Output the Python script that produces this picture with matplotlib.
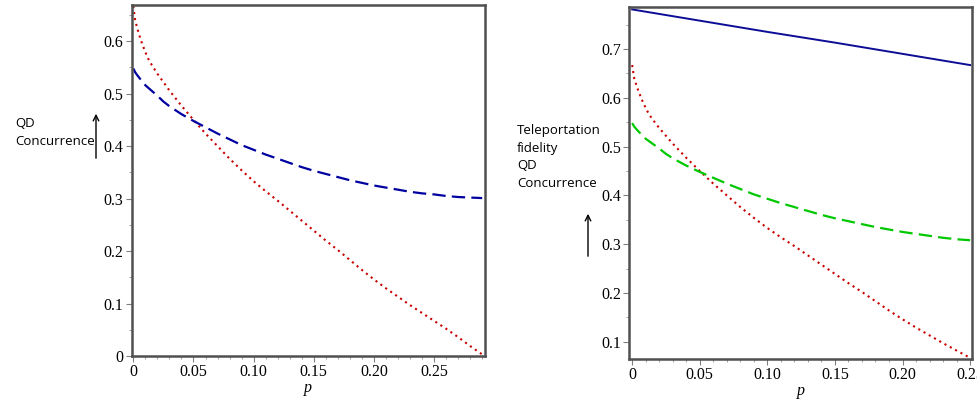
import numpy as np
import matplotlib
matplotlib.use("Agg")
import matplotlib.pyplot as plt
from matplotlib.ticker import MultipleLocator

# mixing parameter p
p = [0, 0.0015, 0.003, 0.005, 0.0075, 0.01, 0.0125, 0.015, 0.0175, 0.02,
     0.025, 0.03, 0.04, 0.05, 0.06, 0.07, 0.08, 0.09, 0.10, 0.11, 0.12, 0.13,
     0.14, 0.15, 0.16, 0.17, 0.18, 0.19, 0.20, 0.21, 0.22, 0.23, 0.24, 0.25,
     0.26, 0.27, 0.28, 0.29]

concurrence = [0.667, 0.640, 0.627, 0.611, 0.594, 0.579, 0.566, 0.556, 0.547,
               0.538, 0.522, 0.506, 0.477, 0.450, 0.424, 0.400, 0.376, 0.354,
               0.333, 0.314, 0.296, 0.277, 0.258, 0.239, 0.220, 0.202, 0.183,
               0.164, 0.146, 0.129, 0.113, 0.097, 0.082, 0.067, 0.052, 0.036,
               0.019, 0.003]

qd = [0.548, 0.541, 0.536, 0.530, 0.523, 0.516, 0.511, 0.506, 0.501, 0.496,
      0.485, 0.476, 0.461, 0.448, 0.436, 0.424, 0.413, 0.402, 0.393, 0.384,
      0.376, 0.368, 0.360, 0.353, 0.347, 0.341, 0.335, 0.330, 0.325, 0.321,
      0.317, 0.313, 0.310, 0.308, 0.305, 0.303, 0.302, 0.301]

p_fid = [0, 0.05, 0.10, 0.15, 0.20, 0.25]
fidelity = [0.781, 0.758, 0.735, 0.713, 0.690, 0.667]

x_ticks = [0, 0.05, 0.10, 0.15, 0.20, 0.25]
x_labels = ["0", "0.05", "0.10", "0.15", "0.20", "0.25"]

fig = plt.figure(figsize=(9.77, 4.0), dpi=100)
ax1 = fig.add_axes([0.135, 0.11, 0.361, 0.8775])
ax2 = fig.add_axes([0.644, 0.1025, 0.351, 0.88])

dot = (0, (1.0, 1.9))
dash = (0, (6.0, 2.8))

ax1.plot(p, concurrence, color="#c80000", lw=1.5, linestyle=dot)
ax1.plot(p, qd, color="#0000a0", lw=1.6, linestyle=dash)

n = p.index(0.25) + 1
ax2.plot(p_fid, fidelity, color="#0c0c96", lw=1.4)
ax2.plot(p[:n], concurrence[:n], color="#c80000", lw=1.5, linestyle=dot)
ax2.plot(p[:n], qd[:n], color="#00c800", lw=1.6, linestyle=dash)

ax1.set_xlim(-0.0012, 0.292)
ax1.set_ylim(0, 0.669)
ax1.set_yticks([0, 0.1, 0.2, 0.3, 0.4, 0.5, 0.6])
ax1.set_yticklabels(["0", "0.1", "0.2", "0.3", "0.4", "0.5", "0.6"])

ax2.set_xlim(-0.0022, 0.2515)
ax2.set_ylim(0.0646, 0.786)
ax2.set_yticks([0.1, 0.2, 0.3, 0.4, 0.5, 0.6, 0.7])
ax2.set_yticklabels(["0.1", "0.2", "0.3", "0.4", "0.5", "0.6", "0.7"])

for ax in (ax1, ax2):
    ax.set_xticks(x_ticks)
    ax.set_xticklabels(x_labels)
    ax.xaxis.set_minor_locator(MultipleLocator(0.01))
    ax.yaxis.set_minor_locator(MultipleLocator(0.05))
    for s in ax.spines.values():
        s.set_linewidth(1.8)
        s.set_color("#505050")
    ax.tick_params(which="major", length=4, width=0.8, color="#808080",
                   labelsize=11.5, pad=2)
    ax.tick_params(which="minor", length=2, width=0.6, color="#909090")
    for lab in ax.get_xticklabels() + ax.get_yticklabels():
        lab.set_family("Liberation Serif")
    ax.set_xlabel("p", fontsize=11.5, family="Liberation Serif", style="italic",
                  labelpad=0)

fig.text(0.016, 0.669, "QD\nConcurrence", fontsize=9.5, family="Open Sans",
         va="center", ha="left", linespacing=1.5)
ax1.annotate("", xy=(96, 400 - 111), xycoords="figure pixels",
             xytext=(96, 400 - 161), textcoords="figure pixels",
             arrowprops=dict(arrowstyle="->", lw=1.0, color="black"))

fig.text(0.529, 0.607, "Teleportation\nfidelity\nQD\nConcurrence",
         fontsize=9.5, family="Open Sans", va="center", ha="left",
         linespacing=1.45)
ax2.annotate("", xy=(588, 400 - 211), xycoords="figure pixels",
             xytext=(588, 400 - 259), textcoords="figure pixels",
             arrowprops=dict(arrowstyle="->", lw=1.0, color="black"))

fig.savefig("out.png", dpi=100)
